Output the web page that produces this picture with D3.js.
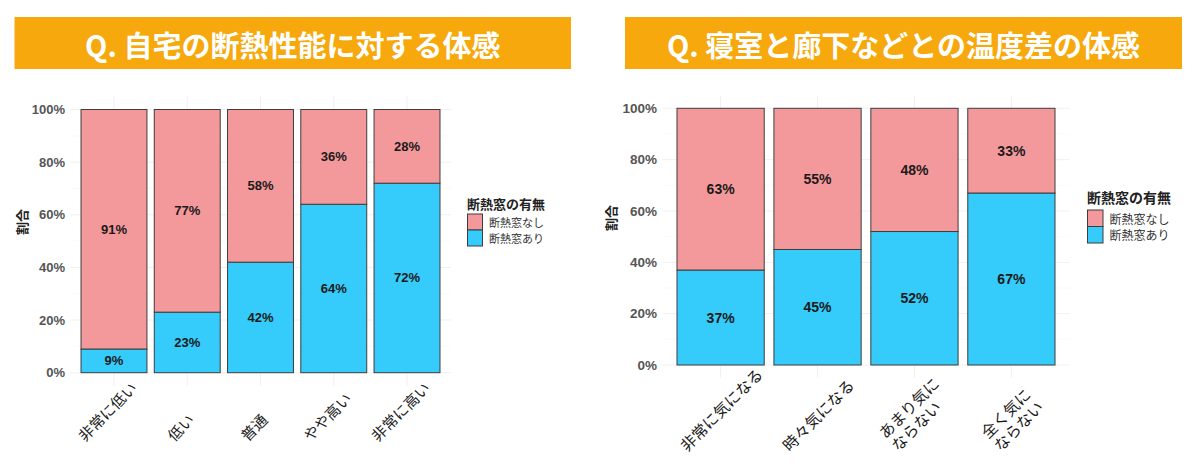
<!DOCTYPE html>
<html>
<head>
<meta charset="utf-8">
<script src="https://cdn.jsdelivr.net/npm/d3@7"></script>
<style>
  html, body { margin: 0; padding: 0; background: #fff; }
  svg { display: block; }
</style>
</head>
<body>
<div id="chart"></div>
<script>
// ── Data ─────────────────────────────────────────────────────────
const SERIES_KEYS   = ['with', 'without'];            // stacking order, bottom first
const SERIES_LABELS = { without: '断熱窓なし', with: '断熱窓あり' };
const LEGEND_ORDER  = ['without', 'with'];
const LEGEND_TITLE  = '断熱窓の有無';
const Y_TITLE       = '割合';
const Y_TICKS       = [0, 0.2, 0.4, 0.6, 0.8, 1];

const Q1_TITLE      = 'Q. 自宅の断熱性能に対する体感';
const Q1_CATEGORIES = ['非常に低い', '低い', '普通', 'やや高い', '非常に高い'];
const Q1_WITH       = [9, 23, 42, 64, 72];
const Q1_WITHOUT    = [91, 77, 58, 36, 28];

const Q2_TITLE      = 'Q. 寝室と廊下などとの温度差の体感';
const Q2_CATEGORIES = ['非常に気になる', '時々気になる', 'あまり気に\nならない', '全く気に\nならない'];
const Q2_WITH       = [37, 45, 52, 67];
const Q2_WITHOUT    = [63, 55, 48, 33];

// ── Style tokens ─────────────────────────────────────────────────
const COLORS = { without: '#f4999b', with: '#35cbfa' };
const BANNER = '#f6a80c';
const JP  = "'Noto Sans CJK JP','Noto Sans',sans-serif";
const LAT = "'Liberation Sans',Arial,'DejaVu Sans',sans-serif";

const W = 1200, H = 472;
const svg = d3.select('#chart').append('svg')
  .attr('width', W).attr('height', H)
  .attr('viewBox', `0 0 ${W} ${H}`);

svg.append('rect').attr('width', W).attr('height', H).attr('fill', '#fff');

function drawPanel(o) {
  const rows = o.categories.map((c, i) => ({ cat: c, with: o.withVals[i] / 100, without: o.withoutVals[i] / 100 }));
  const stacked = d3.stack().keys(SERIES_KEYS)(rows);

  const x = d3.scaleBand().domain(o.categories)
    .range([o.barLeft, o.barRight]).paddingInner(0.1).paddingOuter(0.05);
  const y = d3.scaleLinear().domain([0, 1]).range([o.yBottom, o.yTop]);

  // ggplot-style panel: 0.6 step beyond the outer bar centres, 5% above/below
  const panelL = x(o.categories[0]) + x.bandwidth() / 2 - 0.6 * x.step();
  const panelR = x(o.categories[o.categories.length - 1]) + x.bandwidth() / 2 + 0.6 * x.step();
  const padY = 0.05 * (o.yBottom - o.yTop);

  // ── Title banner ──
  svg.append('rect')
    .attr('x', o.banner[0]).attr('y', 17)
    .attr('width', o.banner[1] - o.banner[0]).attr('height', 52)
    .attr('fill', BANNER);
  svg.append('text')
    .attr('x', (o.banner[0] + o.banner[1]) / 2).attr('y', 44)
    .attr('text-anchor', 'middle').attr('dominant-baseline', 'central')
    .attr('font-family', JP).attr('font-weight', 700).attr('font-size', 29)
    .attr('fill', '#fff')
    .text(o.title);

  // ── Grid ──
  const grid = svg.append('g');
  d3.range(0, 1.01, 0.1).forEach((t, i) => {
    grid.append('line')
      .attr('x1', panelL).attr('x2', panelR)
      .attr('y1', y(t)).attr('y2', y(t))
      .attr('stroke', i % 2 ? '#f7f7f7' : '#f0f0f0').attr('stroke-width', i % 2 ? 0.6 : 1);
  });
  o.categories.forEach(c => {
    const cx = x(c) + x.bandwidth() / 2;
    grid.append('line')
      .attr('x1', cx).attr('x2', cx)
      .attr('y1', o.yTop - padY).attr('y2', o.yBottom + padY)
      .attr('stroke', '#f0f0f0').attr('stroke-width', 1);
  });

  // ── Bars ──
  svg.append('g').selectAll('g').data(stacked).join('g')
    .attr('fill', d => COLORS[d.key])
    .selectAll('rect').data(d => d).join('rect')
      .attr('x', d => x(d.data.cat))
      .attr('width', x.bandwidth())
      .attr('y', d => y(d[1]))
      .attr('height', d => y(d[0]) - y(d[1]))
      .attr('stroke', '#3d3d3d').attr('stroke-width', 1);

  // ── Bar labels ──
  stacked.forEach(layer => {
    svg.append('g').selectAll('text').data(layer).join('text')
      .attr('x', d => x(d.data.cat) + x.bandwidth() / 2)
      .attr('y', d => y((d[0] + d[1]) / 2))
      .attr('text-anchor', 'middle').attr('dominant-baseline', 'central')
      .attr('font-family', LAT).attr('font-weight', 700).attr('font-size', o.labelSize)
      .attr('fill', '#1a1a1a')
      .text(d => Math.round(d.data[layer.key] * 100) + '%');
  });

  // ── Y axis ──
  const yAxis = svg.append('g')
    .attr('transform', `translate(${o.tickRight + 3},0)`)
    .call(d3.axisLeft(y).tickValues(Y_TICKS).tickFormat(d3.format('.0%')).tickSize(0).tickPadding(3));
  yAxis.select('.domain').remove();
  yAxis.selectAll('text')
    .attr('font-family', LAT).attr('font-weight', 700).attr('font-size', o.tickSize)
    .attr('fill', '#555');

  svg.append('text')
    .attr('transform', `translate(${o.yTitleX},${o.yTitleY}) rotate(-90)`)
    .attr('text-anchor', 'middle').attr('dominant-baseline', 'central')
    .attr('font-family', JP).attr('font-weight', 700).attr('font-size', 13)
    .attr('fill', '#222')
    .text(Y_TITLE);

  // ── X labels, rotated 45° and fitted to the measured box ──
  o.categories.forEach(c => {
    const g = svg.append('g');
    const t = g.append('text')
      .attr('font-family', JP).attr('font-size', o.xSize).attr('fill', '#1a1a1a');
    c.split('\n').forEach((line, i) => {
      t.append('tspan').attr('x', 0).attr('dy', i ? '1.15em' : 0).text(line);
    });
    const b = t.node().getBBox();
    const k = Math.SQRT1_2;
    const pts = [[b.x, b.y], [b.x + b.width, b.y], [b.x, b.y + b.height], [b.x + b.width, b.y + b.height]]
      .map(([px, py]) => [k * px + k * py, -k * px + k * py]);
    const xs = pts.map(p => p[0]), ys = pts.map(p => p[1]);
    const cx = x(c) + x.bandwidth() / 2 + o.xShift;
    const tx = cx - (d3.min(xs) + d3.max(xs)) / 2;
    const ty = o.xBottom - d3.max(ys);
    g.attr('transform', `translate(${tx},${ty}) rotate(-45)`);
  });

  // ── Legend ──
  const lg = svg.append('g').attr('transform', `translate(${o.legend[0]},${o.legend[1]})`);
  lg.append('text')
    .attr('x', 0).attr('y', 0).attr('dominant-baseline', 'central')
    .attr('font-family', JP).attr('font-weight', 700).attr('font-size', o.legendTitleSize)
    .attr('fill', '#222')
    .text(LEGEND_TITLE);
  LEGEND_ORDER.forEach((key, i) => {
    const ky = o.legendKeyTop + i * o.legendKey;
    lg.append('rect')
      .attr('x', 0.5).attr('y', ky)
      .attr('width', o.legendKey - 1).attr('height', o.legendKey)
      .attr('fill', COLORS[key]).attr('stroke', '#3d3d3d').attr('stroke-width', 1);
    lg.append('text')
      .attr('x', o.legendKey + 6).attr('y', ky + o.legendKey / 2)
      .attr('dominant-baseline', 'central')
      .attr('font-family', JP).attr('font-size', o.legendLabelSize).attr('fill', '#333')
      .text(SERIES_LABELS[key]);
  });
}

drawPanel({
  title: Q1_TITLE, categories: Q1_CATEGORIES, withVals: Q1_WITH, withoutVals: Q1_WITHOUT,
  banner: [14.5, 571],
  barLeft: 81 - 3.65, barRight: 440 + 3.65, yTop: 109.5, yBottom: 372.7,
  tickRight: 65, tickSize: 13, labelSize: 13,
  yTitleX: 21, yTitleY: 222,
  xSize: 15, xShift: -7, xBottom: 445,
  legend: [467, 203], legendKeyTop: 11, legendKey: 16, legendTitleSize: 13, legendLabelSize: 11
});

drawPanel({
  title: Q2_TITLE, categories: Q2_CATEGORIES, withVals: Q2_WITH, withoutVals: Q2_WITHOUT,
  banner: [625, 1182],
  barLeft: 677 - 4.85, barRight: 1055 + 4.85, yTop: 108.3, yBottom: 365,
  tickRight: 657, tickSize: 13.5, labelSize: 14,
  yTitleX: 610, yTitleY: 218,
  xSize: 15.5, xShift: 0, xBottom: 455,
  legend: [1087, 197], legendKeyTop: 13, legendKey: 16.5, legendTitleSize: 14, legendLabelSize: 12
});
</script>
</body>
</html>
